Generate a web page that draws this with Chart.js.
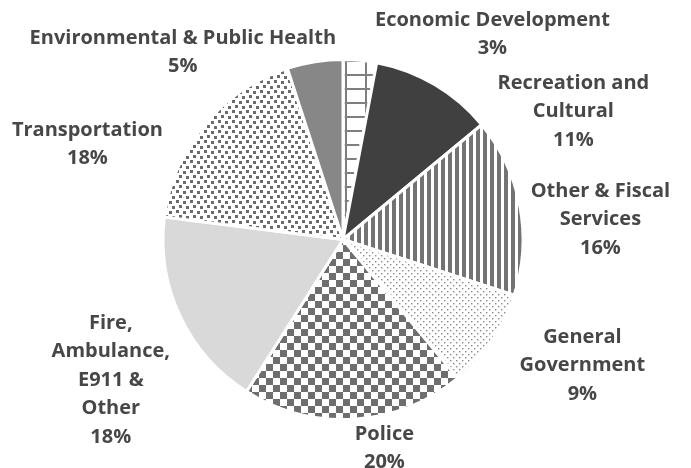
<!DOCTYPE html>
<html>
<head>
<meta charset="utf-8">
<script src="https://cdn.jsdelivr.net/npm/chart.js@4"></script>
<style>
  html, body { margin: 0; padding: 0; background: #fff; }
  #wrap { width: 691px; height: 468px; }
</style>
</head>
<body>
<div id="wrap"><canvas id="pieChart" width="691" height="468"></canvas></div>
<script>
// Budget share by service area (clockwise from 12 o'clock)
const categories = ['Economic Development', 'Recreation and Cultural', 'Other & Fiscal Services',
    'General Government', 'Police', 'Fire, Ambulance, E911 & Other', 'Transportation',
    'Environmental & Public Health'];
const shares = [3, 11, 16, 9, 20, 18, 18, 5];

// How each label wraps in the picture
const labelLines = [
    ['Economic Development'],
    ['Recreation and', 'Cultural'],
    ['Other & Fiscal', 'Services'],
    ['General', 'Government'],
    ['Police'],
    ['Fire,', 'Ambulance,', 'E911 &', 'Other'],
    ['Transportation'],
    ['Environmental & Public Health']
];

// Label block centres, relative to pie centre, in units of the radius
const labelSpots = [
    [0.83, -1.14], [1.28, -0.71], [1.43, -0.11], [1.33, 0.70],
    [0.23, 1.16], [-1.29, 0.78], [-1.42, -0.53], [-0.89, -1.04]
];

// Helpers to build fill patterns
function makeTile(w, h, draw) {
    const c = document.createElement('canvas');
    c.width = w;
    c.height = h;
    const g = c.getContext('2d');
    g.fillStyle = '#fff';
    g.fillRect(0, 0, w, h);
    draw(g);
    return c;
}

function pattern(tile, dx, dy) {
    const ctx = document.getElementById('pieChart').getContext('2d');
    const p = ctx.createPattern(tile, 'repeat');
    if (dx || dy) p.setTransform(new DOMMatrix().translate(dx || 0, dy || 0));
    return p;
}

const gridFill = pattern(makeTile(20, 14, g => {
    g.fillStyle = '#7f7f7f';
    g.fillRect(0, 0, 2, 14);
    g.fillRect(0, 0, 20, 2);
}), 5, 4);

const stripeFill = pattern(makeTile(7, 7, g => {
    g.fillStyle = '#737373';
    g.fillRect(0, 0, 4, 7);
}));

const dotFill = pattern(makeTile(6, 6, g => {
    g.fillStyle = '#8a8a8a';
    g.fillRect(0, 0, 1.4, 1.4);
    g.fillRect(3, 3, 1.4, 1.4);
}));

const checkerFill = pattern(makeTile(14, 14, g => {
    g.fillStyle = '#6e6e6e';
    g.fillRect(0, 0, 7, 7);
    g.fillRect(7, 7, 7, 7);
}));

const confettiFill = pattern(makeTile(14, 10, g => {
    g.fillStyle = '#6b6b6b';
    g.fillRect(1, 1, 3, 3);
    g.fillRect(8, 0, 3, 3);
    g.fillRect(4, 6, 3, 3);
    g.fillRect(11, 5, 3, 3);
}));

const sliceFills = [gridFill, '#404040', stripeFill, dotFill, checkerFill, '#d9d9d9', confettiFill, '#878787'];

// Draws the wrapped category names with their percentages
const sliceLabels = {
    id: 'sliceLabels',
    afterDatasetsDraw(chart) {
        const arc = chart.getDatasetMeta(0).data[0];
        if (!arc) return;
        const { x, y, outerRadius } = arc.getProps(['x', 'y', 'outerRadius'], true);
        const ctx = chart.ctx;
        const lineH = 28.5;
        ctx.save();
        ctx.font = 'bold 20px "Open Sans", Lato, sans-serif';
        ctx.fillStyle = '#474747';
        ctx.textAlign = 'center';
        ctx.textBaseline = 'middle';
        labelLines.forEach((lines, i) => {
            const all = lines.concat([shares[i] + '%']);
            const cx = x + labelSpots[i][0] * outerRadius;
            const cy = y + labelSpots[i][1] * outerRadius;
            const top = cy - (all.length - 1) * lineH / 2;
            all.forEach((t, k) => ctx.fillText(t, cx, top + k * lineH));
        });
        ctx.restore();
    }
};

new Chart(document.getElementById('pieChart'), {
    type: 'pie',
    data: {
        labels: categories,
        datasets: [{
            data: shares,
            backgroundColor: sliceFills,
            borderColor: '#ffffff',
            borderWidth: 3
        }]
    },
    options: {
        responsive: false,
        animation: false,
        layout: { padding: { top: 58, bottom: 47, left: 0, right: 5 } },
        plugins: {
            legend: { display: false },
            tooltip: { enabled: false }
        }
    },
    plugins: [sliceLabels]
});
</script>
</body>
</html>
